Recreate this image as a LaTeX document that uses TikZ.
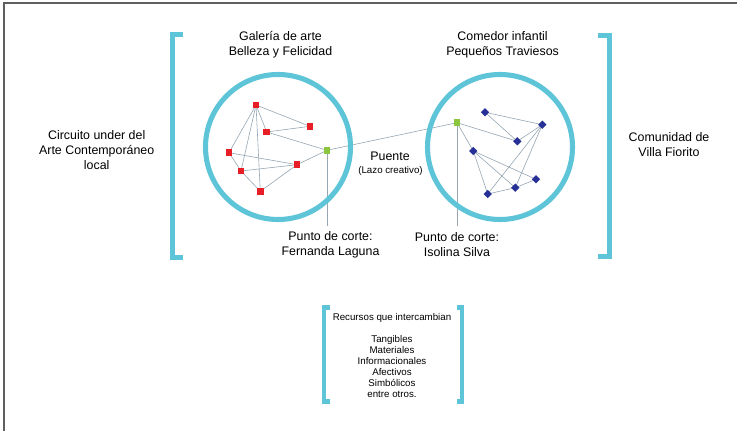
\documentclass[tikz,border=0pt]{standalone}
\usepackage{fontspec}
\setmainfont{Liberation Sans}
\usetikzlibrary{calc}
\usetikzlibrary{backgrounds}
\definecolor{ringblue}{RGB}{94,196,216}
\definecolor{linkgray}{RGB}{150,166,178}
\definecolor{nodered}{RGB}{232,30,38}
\definecolor{nodeblue}{RGB}{38,48,150}
\definecolor{nodegreen}{RGB}{140,198,63}
\definecolor{framegray}{RGB}{95,95,95}
\tikzset{
	redsq/.style={fill=nodered, inner sep=0pt, minimum size=5.2pt},
	bluedia/.style={fill=nodeblue, inner sep=0pt, minimum size=4.4pt, rotate=45},
	greensq/.style={fill=nodegreen, inner sep=0pt, minimum size=5.2pt},
	link/.style={linkgray, line width=0.45pt},
	ring/.style={ringblue, line width=3.8pt},
	brk/.style={ringblue, line width=3.7pt, line cap=butt, line join=miter},
	txt/.style={align=center, inner sep=0pt, font=\fontsize{9.3}{11.2}\selectfont},
	smalltxt/.style={align=center, inner sep=0pt, font=\fontsize{7.3}{8.3}\selectfont},
}

\begin{document}
\begin{tikzpicture}[x=0.75pt,y=-0.75pt]
		\useasboundingbox (0,0) rectangle (738,431);
		\draw[framegray,line width=0.9pt] (4,431) -- (4,3) -- (737,3);
		% brackets
		\draw[brk] (183,34.5) -| (172.5,257.5) -- (183,257.5);
		\draw[brk] (598,35.2) -| (609.5,256.5) -- (598,256.5);
		\draw[brk] (329.5,307.5) -| (324,401.5) -- (329.5,401.5);
		\draw[brk] (456.5,307.5) -| (462,401.5) -- (456.5,401.5);
		% rings
		\draw[ring] (278,147) circle[radius=72.5];
		\draw[ring] (500,147) circle[radius=72.5];
		% nodes
		\foreach \n/\x/\y in {L1/256/105,L2/310/126.3,L3/266.7/132,L4/229/152.7,L5/297/164.7,L6/241/171,L7/260.3/191.3}
		\node[redsq] (\n) at (\x,\y) {};
		\foreach \n/\x/\y in {R1/485/112.3,R2/542.3/124.7,R3/517.3/141.3,R4/473.3/151,R5/536/179.3,R6/515.3/187.7,R7/487.7/194}
		\node[bluedia] (\n) at (\x,\y) {};
		\node[greensq] (G1) at (327,150.3) {};
		\node[greensq] (G2) at (457,122.7) {};
		\coordinate (F1) at (327,226);
		\coordinate (F2) at (457,226);
		\begin{scope}[on background layer]
		\foreach \a/\b in {L1/L2,L1/L3,L1/L4,L1/L6,L1/L7,L3/L2,L3/G1,L4/L5,L4/L6,L6/L5,L6/L7,L7/L5,L5/G1,G1/G2,G1/F1,
			R1/R2,R1/R3,R2/R3,G2/R3,G2/R4,R2/R7,R2/R6,R4/R7,R4/R6,R4/R5,R7/R6,R6/R5,G2/F2}
		\draw[link] (\a.center) -- (\b.center);
		\end{scope}
		% texts
		\node[txt] (galeria) at (280.5,45) {Galería de arte\\Belleza y Felicidad};
		\node[txt] (comedor) at (502.6,45) {Comedor infantil\\Pequeños Traviesos};
		\node[txt] (circuito) at (96.7,150.5) {Circuito under del\\Arte Contemporáneo\\local};
		\node[txt] (comunidad) at (669,145) {Comunidad de\\Villa Fiorito};
		\node[txt] (puente) at (390,156) {Puente};
		\node[smalltxt] (lazo) at (390.5,170.7) {(Lazo creativo)};
		\node[txt] (corte1) at (330.5,245) {Punto de corte:\\Fernanda Laguna};
		\node[txt] (corte2) at (457,245) {Punto de corte:\\Isolina Silva};
		\node[smalltxt] (recursos) at (392,355.5) {Recursos que intercambian\\[8.3pt]Tangibles\\Materiales\\Informacionales\\Afectivos\\Simbólicos\\entre otros.};
	\end{tikzpicture}
\end{document}
